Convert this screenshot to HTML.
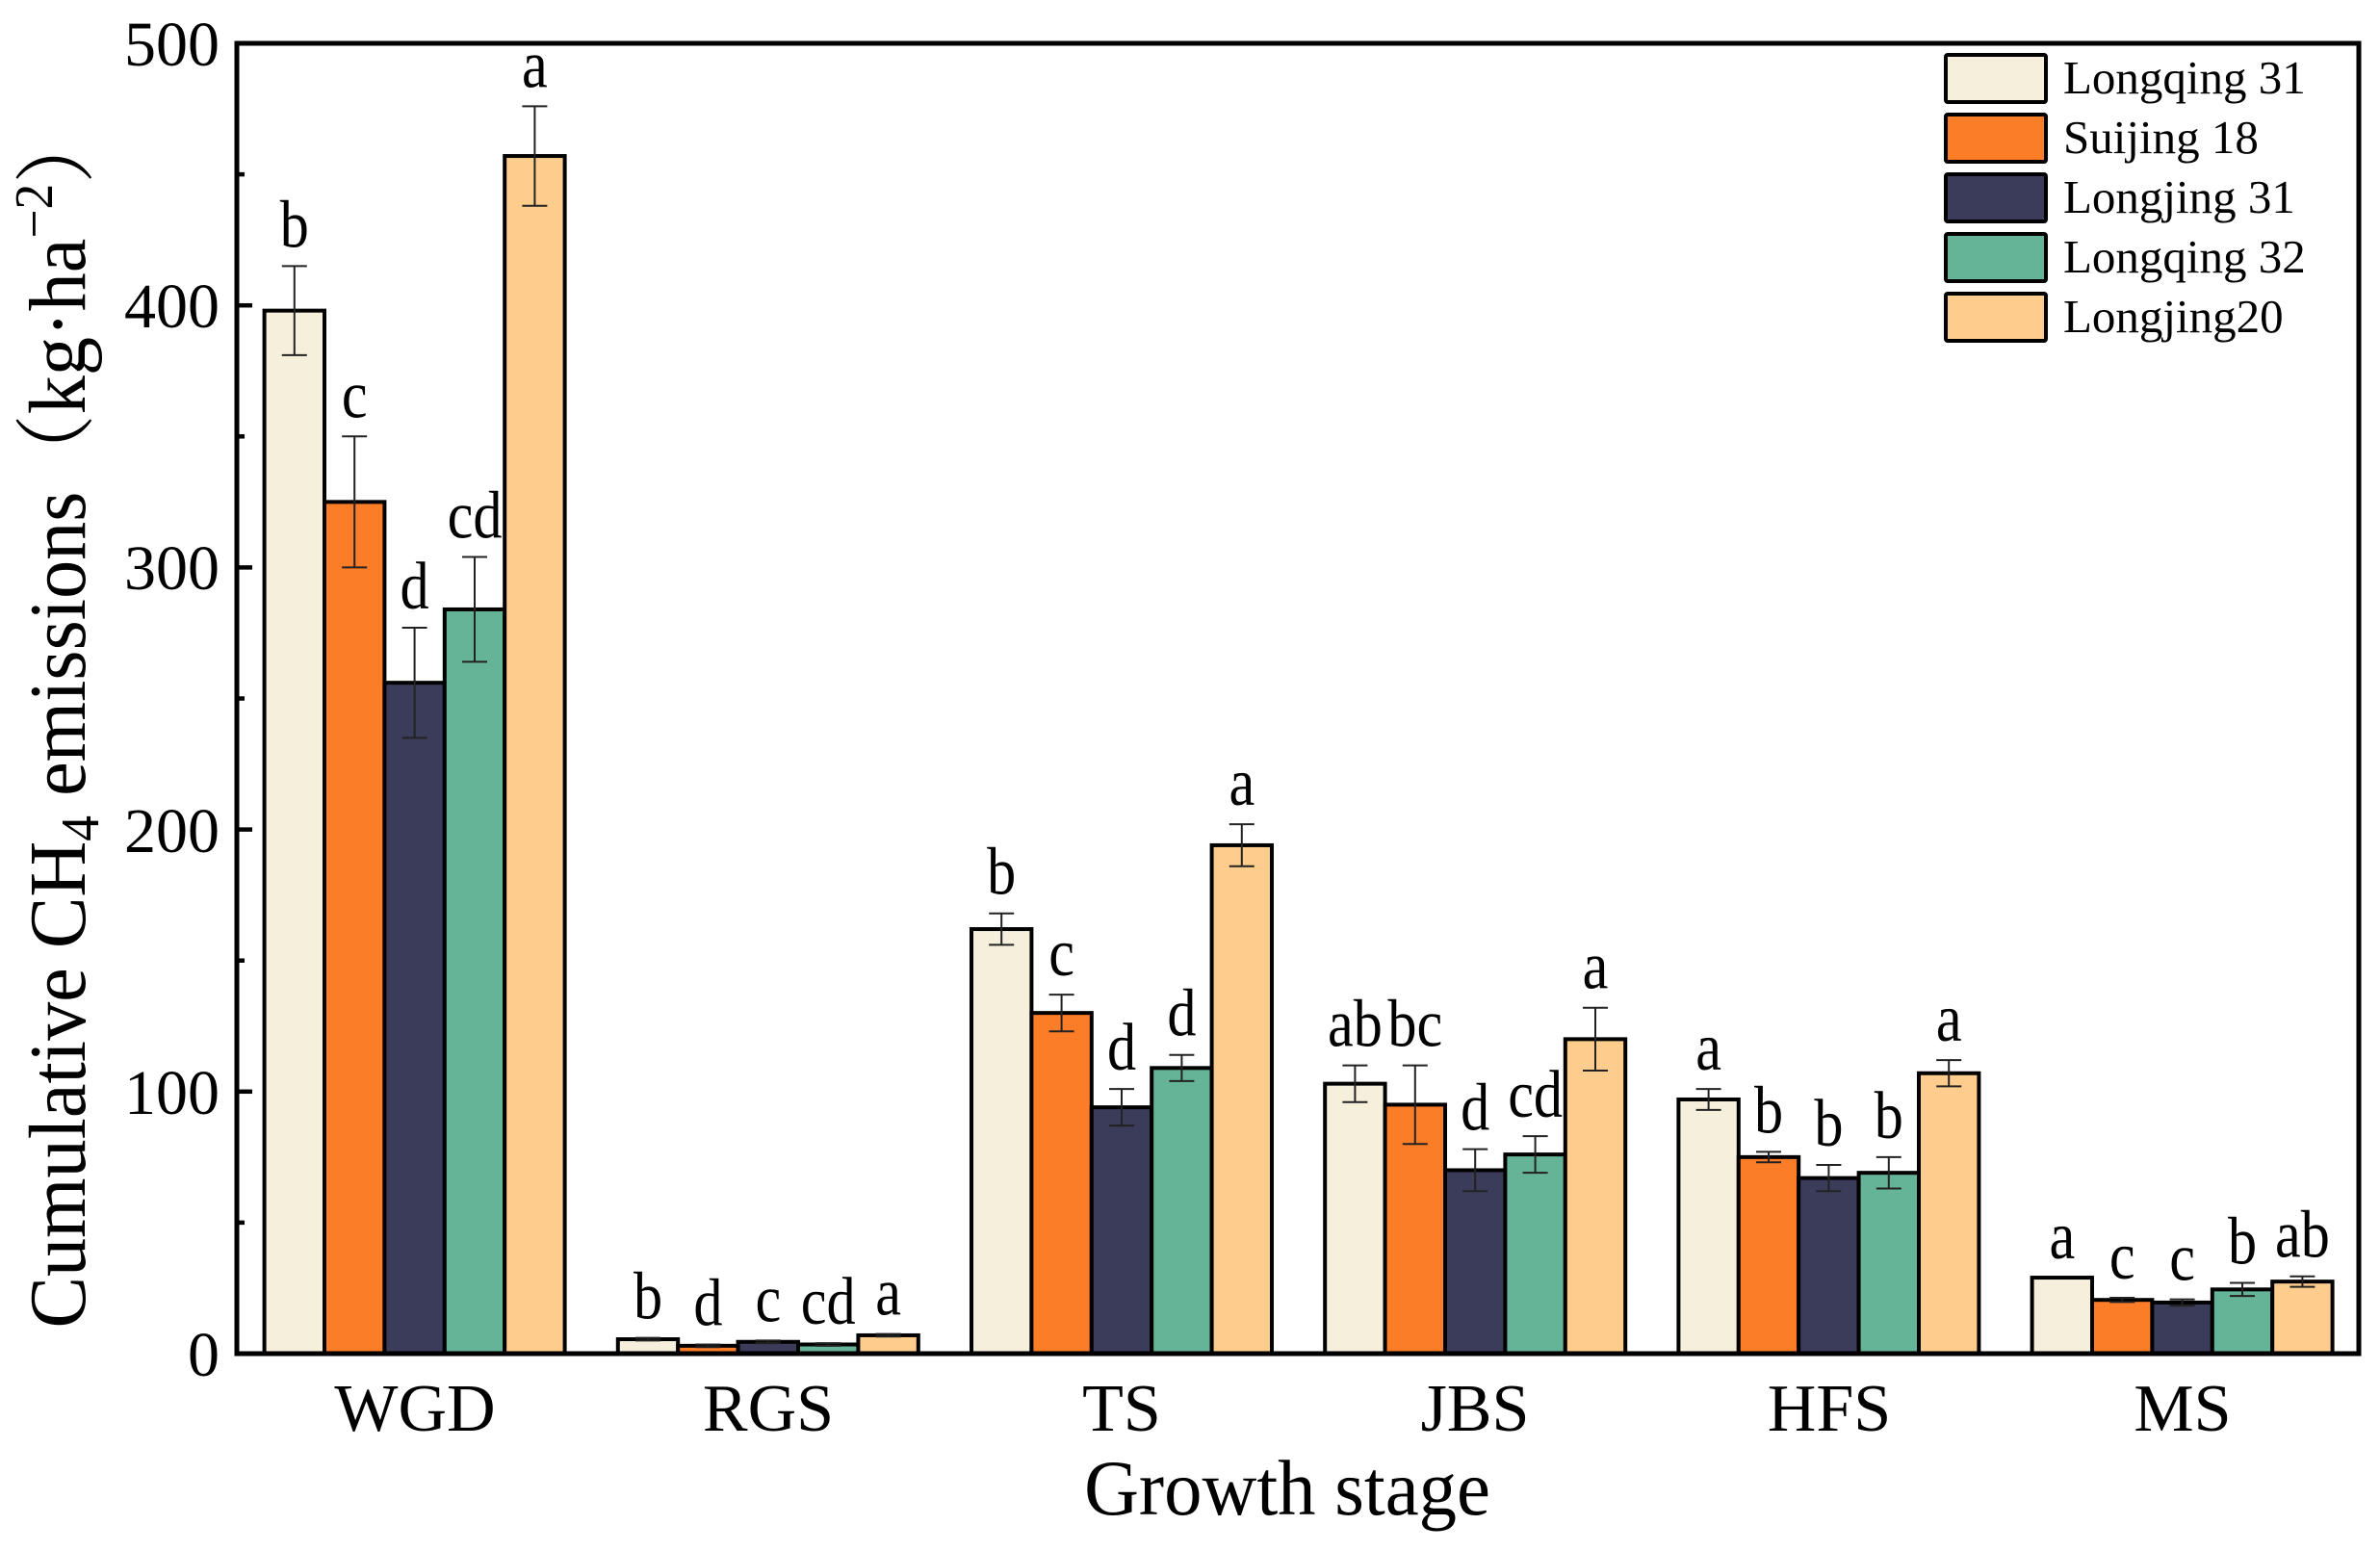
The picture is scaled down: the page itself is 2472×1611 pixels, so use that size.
<!DOCTYPE html>
<html><head><meta charset="utf-8"><style>html,body{margin:0;padding:0;background:#fff}svg{display:block}</style></head>
<body>
<svg id="s" xmlns="http://www.w3.org/2000/svg" width="2472" height="1611" viewBox="0 0 2472 1611" font-family="'Liberation Serif', 'Noto Serif CJK SC', serif">
<rect width="2472" height="1611" fill="#fff"/>
<g id="bars"></g>
<g id="axes" stroke="#000" stroke-width="5" fill="none">
<rect x="246" y="45" width="2204" height="1361"/>
</g>
<g id="ticks" stroke="#000" stroke-width="4.5"></g>
<g font-size="66" text-anchor="end" fill="#000">
<text x="228" y="1429">0</text>
<text x="228" y="1157">100</text>
<text x="228" y="885">200</text>
<text x="228" y="612">300</text>
<text x="228" y="340">400</text>
<text x="228" y="68">500</text>
</g>
<g font-size="70" text-anchor="middle" fill="#000">
<text x="431" y="1486">WGD</text>
<text x="798" y="1486">RGS</text>
<text x="1165" y="1486">TS</text>
<text x="1532" y="1486">JBS</text>
<text x="1900" y="1486">HFS</text>
<text x="2267" y="1486">MS</text>
</g>
<text transform="translate(1337,1573) scale(0.96,1)" font-size="82" text-anchor="middle">Growth stage</text>
<text transform="translate(88,745) rotate(-90) scale(0.955,1)" font-size="84" text-anchor="middle">Cumulative CH<tspan font-size="56" dy="14">4</tspan><tspan dy="-14"> emissions（kg·ha</tspan><tspan font-size="56" dy="-34">−2</tspan><tspan dy="34">）</tspan></text>
<g id="legend" font-size="49"></g>
<g id="labels" font-size="70" text-anchor="middle"></g>
</svg>
<script>
var ns="http://www.w3.org/2000/svg";
function el(p,t,a,txt){var e=document.createElementNS(ns,t);for(var k in a)e.setAttribute(k,a[k]);if(txt!=null)e.textContent=txt;p.appendChild(e);return e;}
var cols=["#f5efdc","#fb7d28","#3a3c5a","#65b497","#fecd8e"];
var names=["Longqing 31","Suijing 18","Longjing 31","Longqing 32","Longjing20"];
var data=[
 [[398,17,"b"],[325,25,"c"],[256,21,"d"],[284,20,"cd"],[457,19,"a"]],
 [[5.5,0.5,"b"],[3,0.5,"d"],[4.5,0.5,"c"],[3.5,0.5,"cd"],[7,0.5,"a"]],
 [[162,6,"b"],[130,7,"c"],[94,7,"d"],[109,5,"d"],[194,8,"a"]],
 [[103,7,"ab"],[95,15,"bc"],[70,8,"d"],[76,7,"cd"],[120,12,"a"]],
 [[97,4,"a"],[75,2,"b"],[67,5,"b"],[69,6,"b"],[107,5,"a"]],
 [[29,0,"a"],[20.5,0.8,"c"],[19.5,1.2,"c"],[24.5,2.5,"b"],[27.5,2,"ab"]]
];
var y0=1406,k=2.722,bw=62.4;
var B=document.getElementById("bars"),L=document.getElementById("labels");
data.forEach(function(g,gi){
 var c=430.6+367.2*gi;
 g.forEach(function(d,i){
  var x=c-2.5*bw+i*bw, top=y0-d[0]*k;
  el(B,"rect",{x:x,y:top,width:bw,height:y0-top,fill:cols[i],stroke:"#000","stroke-width":4});
  var et=y0-(d[0]+d[1])*k, eb=y0-(d[0]-d[1])*k, cx=x+bw/2;
  if(d[1]>0){
   el(B,"line",{x1:cx,y1:et,x2:cx,y2:eb,stroke:"#222","stroke-width":2});
   el(B,"line",{x1:cx-13,y1:et,x2:cx+13,y2:et,stroke:"#222","stroke-width":2});
   el(B,"line",{x1:cx-13,y1:eb,x2:cx+13,y2:eb,stroke:"#222","stroke-width":2});
  }
  el(L,"text",{transform:"translate("+cx+","+(Math.min(et,top)-20)+") scale(0.86,1)"},d[2]);
 });
});
var T=document.getElementById("ticks");
for(var v=0;v<=500;v+=50){var y=y0-v*k;el(T,"line",{x1:246,y1:y,x2:v%100==0?262:254,y2:y});}
var G=document.getElementById("legend");
names.forEach(function(n,i){var t=57+62*i;
 el(G,"rect",{x:2021,y:t,width:104,height:49,fill:cols[i],stroke:"#000","stroke-width":4,rx:2});
 el(G,"text",{x:2143,y:t+40},n);});
</script>
</body></html>
